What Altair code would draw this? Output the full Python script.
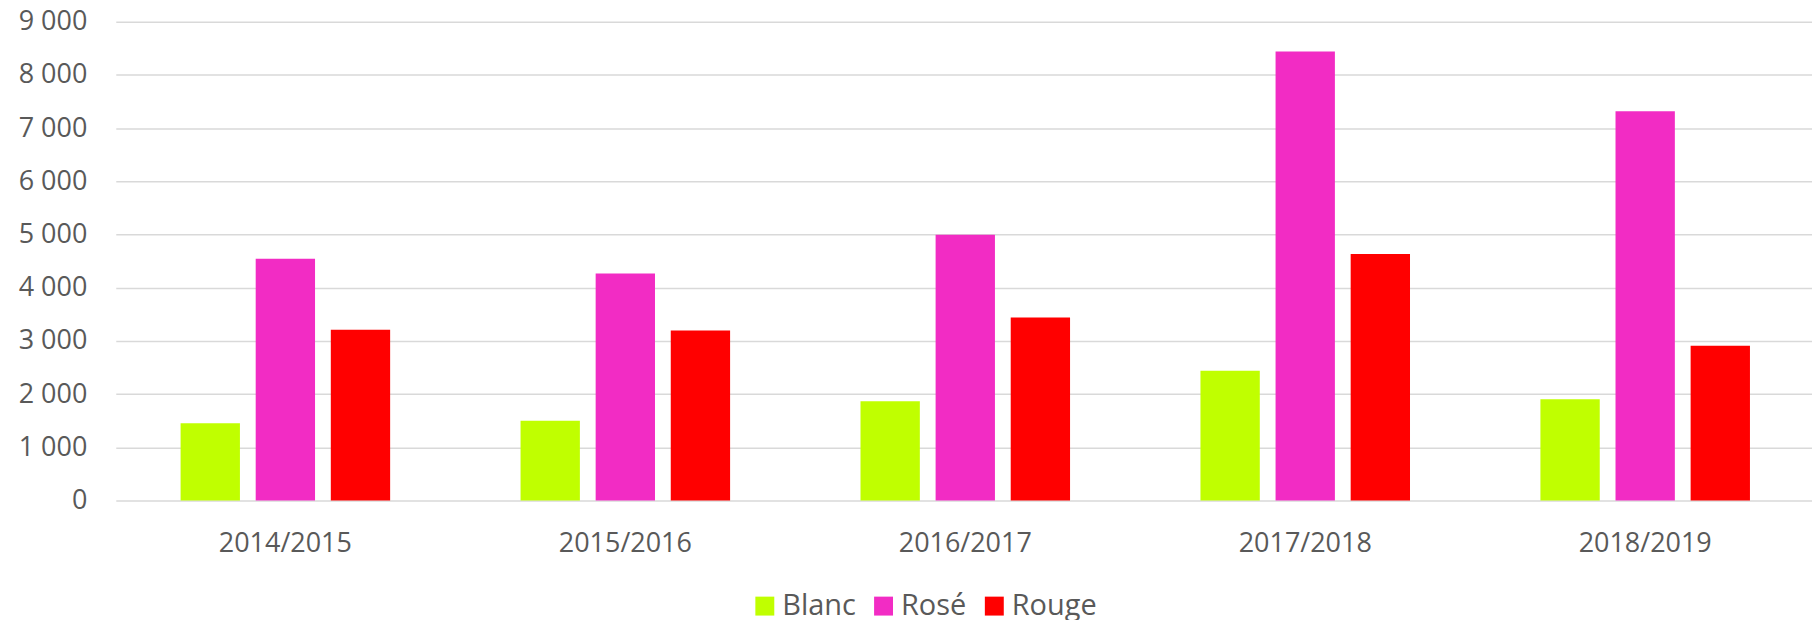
import altair as alt
import pandas as pd

years = ["2014/2015", "2015/2016", "2016/2017", "2017/2018", "2018/2019"]
series = ["Blanc", "Rosé", "Rouge"]
blanc = [1455, 1500, 1865, 2440, 1905]
rose = [4545, 4265, 4995, 8440, 7315]
rouge = [3210, 3195, 3440, 4635, 2910]
colors = ["#C0FF00", "#F22CC4", "#FF0000"]

rows = []
for i, y in enumerate(years):
    for s, vals in zip(series, [blanc, rose, rouge]):
        rows.append({"year": y, "type": s, "value": vals[i]})
df = pd.DataFrame(rows)

FONT = "Open Sans"
GREY = "#595959"

chart = alt.Chart(df).mark_bar().encode(
    x=alt.X("year:N", sort=years, title=None,
            scale=alt.Scale(paddingInner=0.3836, paddingOuter=0.1866, align=0.511),
            axis=alt.Axis(labelAngle=0, labelFont=FONT, labelFontSize=27,
                          labelColor=GREY, ticks=False, domain=False,
                          labelPadding=30)),
    xOffset=alt.XOffset("type:N", sort=series,
                        scale=alt.Scale(paddingInner=0.21, paddingOuter=0)),
    y=alt.Y("value:Q", title=None,
            scale=alt.Scale(domain=[0, 9000], nice=False),
            axis=alt.Axis(values=list(range(0, 9001, 1000)),
                          labelExpr="datum.value == 0 ? '0' : (datum.value/1000) + ' 000'",
                          labelFont=FONT, labelFontSize=27, labelColor=GREY,
                          ticks=False, domain=False, labelPadding=29,
                          gridColor="#D9D9D9", gridWidth=1.5)),
    color=alt.Color("type:N", sort=series,
                    scale=alt.Scale(domain=series, range=colors),
                    legend=alt.Legend(title=None, orient="none", direction="horizontal",
                                      legendX=636, legendY=571,
                                      symbolType="square", symbolSize=360,
                                      symbolStrokeWidth=0,
                                      labelFont=FONT, labelFontSize=29,
                                      labelColor=GREY, labelOffset=3,
                                      columnPadding=13)),
).properties(
    width=1700, height=480,
    autosize=alt.AutoSizeParams(type="none"),
    padding={"left": 108, "top": 13, "right": 0, "bottom": 119},
).configure_view(stroke=None)

chart.save("out.html", embed_options={"renderer": "svg", "actions": False})
